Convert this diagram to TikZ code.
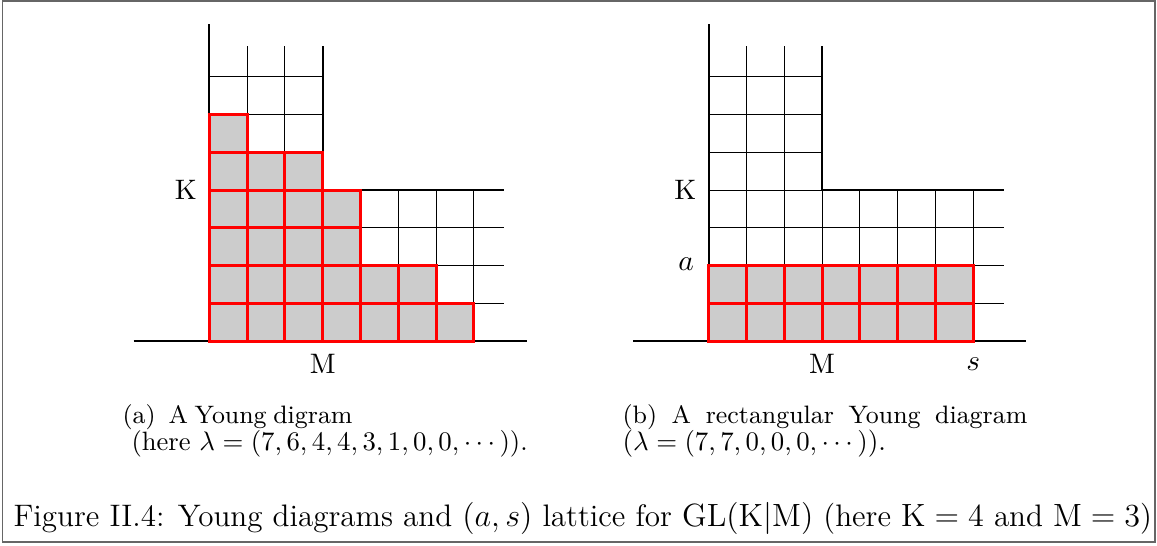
\documentclass[tikz,border=0pt]{standalone}
\usepackage{amsmath}
\begin{document}
\begin{tikzpicture}[x=0.373pt,y=-0.373pt,
  thickline/.style={line width=0.75pt},
  thinline/.style={line width=0.4pt},
  cellbox/.style={draw=red, fill=black!20, line width=1.1pt},
  lablbl/.style={font=\fontsize{10.5}{12}\selectfont, inner sep=0pt},
  substyle/.style={font=\fontsize{9.4}{11}\selectfont, inner sep=0pt, anchor=base west},
  capstyle/.style={font=\fontsize{11.6}{14}\selectfont, inner sep=0pt, anchor=base west}]
\useasboundingbox (0,0) rectangle (1157,545);
\draw[line width=0.7pt, black!60] (2.5,1) rectangle (1155,542);
\newcommand\drawLattice{%
  \foreach \xx in {1,2} \draw[thinline] (\xx,0) -- (\xx,7.8);
  \foreach \xx in {3,4,5,6,7} \draw[thinline] (\xx,0) -- (\xx,4);
  \foreach \yy in {1,2,3} \draw[thinline] (0,\yy) -- (7.8,\yy);
  \foreach \yy in {4,5,6,7} \draw[thinline] (0,\yy) -- (3,\yy);
  \draw[thickline] (0,0) -- (0,8.4);
  \draw[thickline] (3,7.8) -- (3,4) -- (7.8,4);
  \draw[thickline] (-2,0) -- (8.4,0);
}
\newcommand\twolines[2]{\vtop{\baselineskip=10.1pt\lineskiplimit=-20pt\hbox{#1}\hbox{#2}}}
% left diagram
\begin{scope}[shift={(209.3,341.3)}, x=14.1pt, y=14.1pt]
  \drawLattice
  \foreach \len [count=\row from 0] in {7,6,4,4,3,1}
    \foreach \col in {1,...,\len}
      \draw[cellbox] (\col-1,\row) rectangle ++(1,1);
  \node[lablbl] (Ka) at (-0.62,4) {K};
  \node[lablbl] (Ma) at (3,-0.61) {M};
\end{scope}
% right diagram
\begin{scope}[shift={(708.7,341.3)}, x=14.1pt, y=14.1pt]
  \drawLattice
  \foreach \row in {0,1}
    \foreach \col in {1,...,7}
      \draw[cellbox] (\col-1,\row) rectangle ++(1,1);
  \node[lablbl] (Kb) at (-0.62,4) {K};
  \node[lablbl] (ab) at (-0.6,2.03) {$a$};
  \node[lablbl] (Mb) at (3,-0.61) {M};
  \node[lablbl] (sb) at (7,-0.6) {$s$};
\end{scope}
% subcaptions
\node[substyle] (suba) at (122,423.3) {\twolines
  {\makebox[85.8pt][s]{(a)\hspace{0.25em} A Young digram}}
  {\hspace{3.36pt}\fontsize{9.9}{11}\selectfont (here $\lambda=(7,6,4,4,3,1,0,0,\cdots)$).}};
\node[substyle] (subb) at (622,423.3) {\twolines
  {\makebox[151pt][s]{(b) A rectangular Young diagram}}
  {\fontsize{10.2}{11}\selectfont ($\lambda=(7,7,0,0,0,\cdots)$).}};
% caption
\node[capstyle] (caption) at (13,526.7) {Figure II.4: Young diagrams and $(a,s)$ lattice for $\mathrm{GL}(\mathrm{K}|\mathrm{M})$ (here $\mathrm{K}=4$ and $\mathrm{M}=3$)};
\end{tikzpicture}
\end{document}
